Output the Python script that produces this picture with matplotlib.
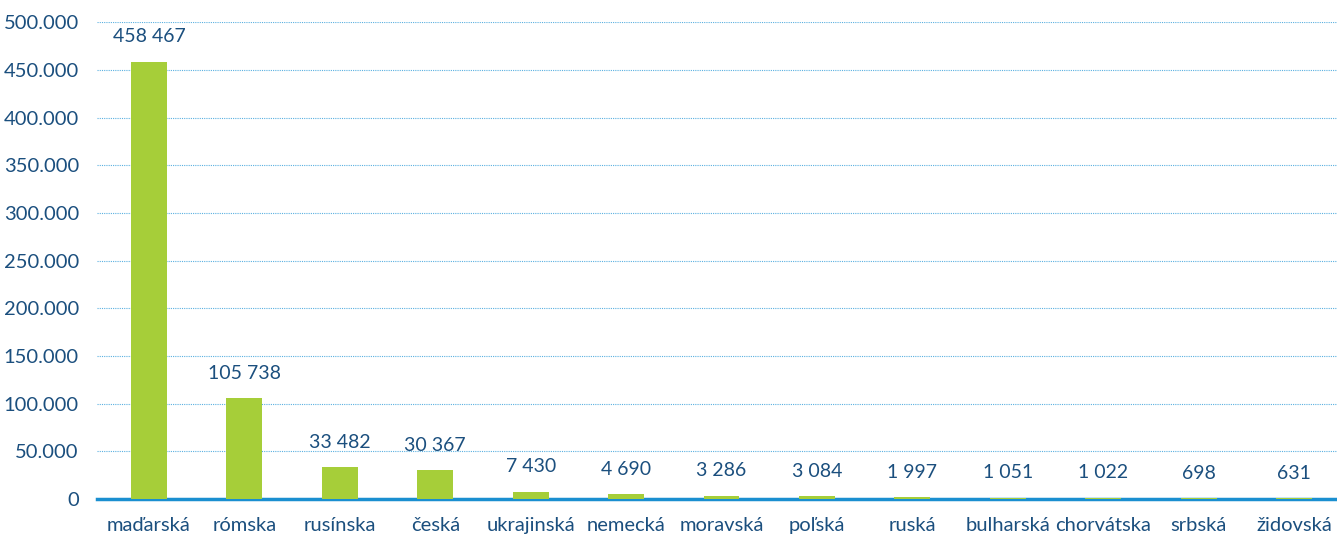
import numpy as np
import matplotlib.pyplot as plt
from matplotlib.ticker import FuncFormatter

plt.rcParams['font.family'] = ['Lato', 'DejaVu Sans']

narodnosti = ['maďarská', 'rómska', 'rusínska', 'česká', 'ukrajinská', 'nemecká',
              'moravská', 'poľská', 'ruská', 'bulharská', 'chorvátska', 'srbská', 'židovská']
pocet = [458467, 105738, 33482, 30367, 7430, 4690, 3286, 3084, 1997, 1051, 1022, 698, 631]

green = '#a6ce39'
navy = '#1b4f7e'
blue = '#1a8fd0'

fig = plt.figure(figsize=(13.37, 5.4), dpi=100)
ax = fig.add_axes([0.0725, 0.076, 0.9275, 0.883])

x = np.arange(len(narodnosti))
ax.bar(x, pocet, width=0.377, color=green, zorder=3)

for xi, v in zip(x, pocet):
    ax.annotate('{:,}'.format(v).replace(',', ' '), (xi, v), xytext=(0, 18),
                textcoords='offset points', ha='center', va='center',
                fontsize=14, color=navy)

ax.set_xlim(-0.545, 12.45)
ax.set_ylim(0, 500000)
ax.set_yticks(np.arange(0, 500001, 50000))
ax.yaxis.set_major_formatter(FuncFormatter(lambda v, p: '{:,}'.format(int(v)).replace(',', '.')))
ax.set_xticks(x)
ax.set_xticklabels(narodnosti)

ax.tick_params(axis='both', length=0, colors=navy, labelsize=14.5)
ax.tick_params(axis='x', pad=13)
ax.tick_params(axis='y', pad=13)

ax.grid(axis='y', linestyle=(0, (1, 1)), color='#5ab0e0', linewidth=0.8, zorder=0)
for s in ['top', 'right', 'left']:
    ax.spines[s].set_visible(False)
ax.spines['bottom'].set_color(blue)
ax.spines['bottom'].set_linewidth(2.5)
ax.spines['bottom'].set_zorder(2)

fig.savefig('out.png', dpi=100)
